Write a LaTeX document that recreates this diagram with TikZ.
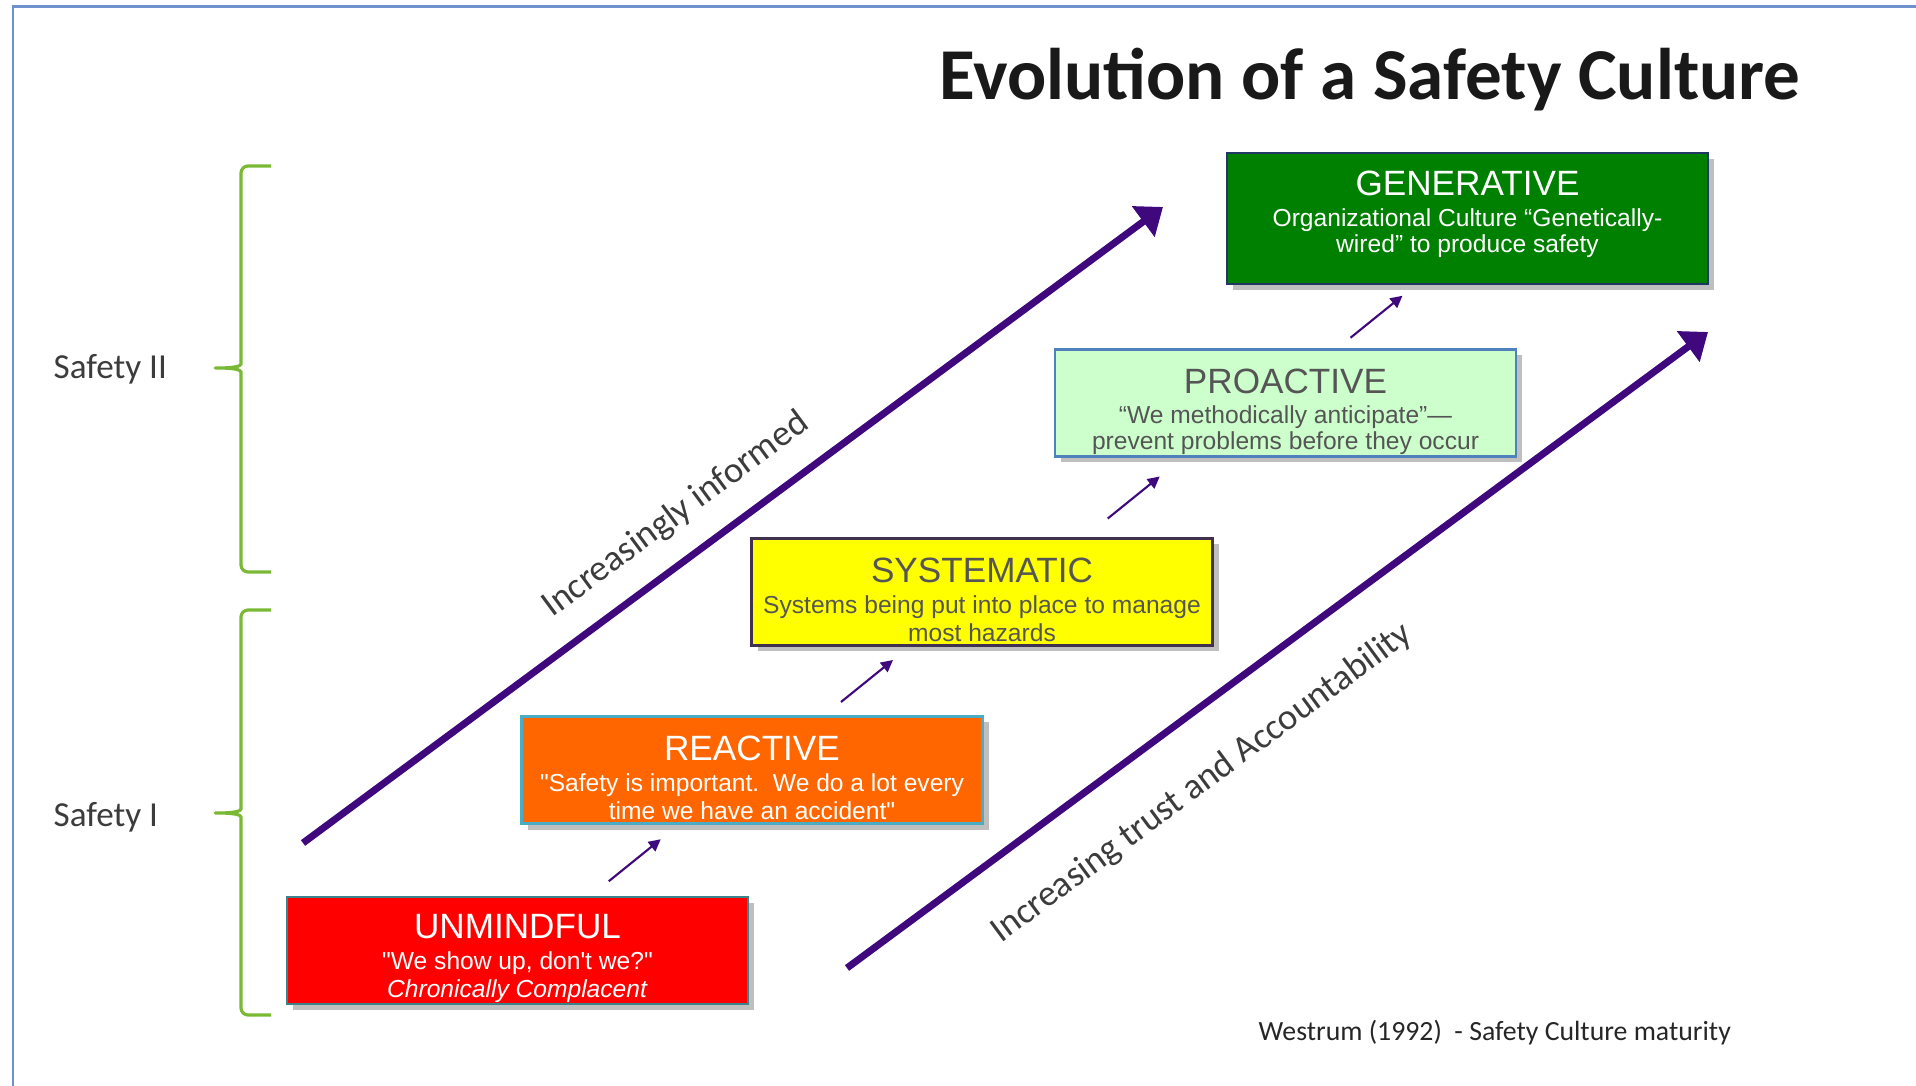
\documentclass[tikz,border=0pt]{standalone}
\usepackage{fontspec}
\setmainfont{Carlito}
\newfontfamily\stagefont{Liberation Sans}
\usepackage{tikz}
\usetikzlibrary{arrows.meta,shadows,calc}

\definecolor{frameblue}{RGB}{110,145,205}
\definecolor{trend}{RGB}{63,8,125}
\definecolor{bracegreen}{RGB}{122,185,52}
\definecolor{labelgray}{RGB}{60,60,60}
\definecolor{stagegray}{RGB}{85,85,85}
\definecolor{unmred}{RGB}{255,0,0}
\definecolor{unmedge}{RGB}{60,130,140}
\definecolor{reaorange}{RGB}{255,102,0}
\definecolor{reaedge}{RGB}{75,172,198}
\definecolor{sysyellow}{RGB}{255,255,0}
\definecolor{sysedge}{RGB}{64,49,81}
\definecolor{prolight}{RGB}{204,255,204}
\definecolor{proedge}{RGB}{79,129,189}
\definecolor{gengreen}{RGB}{0,128,0}
\definecolor{genedge}{RGB}{31,56,100}

\begin{document}
\begin{tikzpicture}[
  stage/.style={draw, line width=0.6pt, minimum width=4.61cm, minimum height=1.07cm,
    inner sep=0pt, align=center, font=\stagefont\fontsize{7}{8.1}\selectfont,
    drop shadow={shadow xshift=0.6mm, shadow yshift=-0.6mm, fill=black!50, opacity=0.5}},
  bigarrow/.style={-{Triangle[length=7pt,width=10.5pt]}, line width=2pt, color=trend},
  steparrow/.style={-{Triangle[length=3.4pt,width=3.4pt]}, line width=0.6pt, color=trend},
  bracket/.style={line width=0.9pt, color=bracegreen, rounded corners=2pt, line join=round},
  side/.style={font=\fontsize{10}{12}\selectfont, text=labelgray, anchor=base west, inner sep=0pt},
  lean/.style={rotate=36.45, font=\fontsize{10.4}{12}\selectfont, text=labelgray, inner sep=0pt}
]
\useasboundingbox (0,0) rectangle (19.16,-10.86);
\draw[frameblue, line width=0.8pt] (19.16,-0.065) -- (0.13,-0.065) -- (0.13,-10.86);

\draw (13.70,-1.00) node[anchor=base, font=\bfseries\fontsize{20.8}{24}\selectfont, text=black!90] (title) {Evolution of a Safety Culture};

% the five stages
\draw (5.175,-9.505) node[stage, fill=unmred, draw=unmedge, text=white] (unmindful)
  {\rule{0pt}{11.5pt}{\fontsize{10}{12}\selectfont UNMINDFUL}\\[0.6pt] "We show up, don't we?"\\ \textit{Chronically Complacent}};
\draw (7.52,-7.70) node[stage, fill=reaorange, draw=reaedge, text=white] (reactive)
  {\rule{0pt}{11.5pt}{\fontsize{10}{12}\selectfont REACTIVE}\\[0.6pt] "Safety is important.\ \ We do a lot every\\ time we have an accident"};
\draw (9.82,-5.92) node[stage, fill=sysyellow, draw=sysedge, text=stagegray] (systematic)
  {\rule{0pt}{11.5pt}{\fontsize{10}{12}\selectfont SYSTEMATIC}\\[0.6pt] Systems being put into place to manage\\ most hazards};
\draw (12.855,-4.03) node[stage, fill=prolight, draw=proedge, text=stagegray] (proactive)
  {\rule{0pt}{12pt}{\fontsize{10}{12}\selectfont PROACTIVE}\\[0.3pt] “We methodically anticipate”—\\[-0.6pt] prevent problems before they occur};
\draw (14.675,-2.185) node[stage, fill=gengreen, draw=genedge, text=white, minimum width=4.81cm, minimum height=1.31cm] (generative)
  {{\fontsize{10}{12}\selectfont GENERATIVE}\\[0.8pt] Organizational Culture “Genetically-\\[-0.9pt] wired” to produce safety\rule[-4pt]{0pt}{4pt}};

\draw[steparrow] ($(unmindful.north)!0.5!(reactive.south)$) +(-0.26,-0.21) -- +(0.26,0.21);
\draw[steparrow] ($(reactive.north)!0.5!(systematic.south)$) +(-0.26,-0.21) -- +(0.26,0.21);
\draw[steparrow] ($(systematic.north)!0.5!(proactive.south)$) +(-0.26,-0.21) -- +(0.26,0.21);
\draw[steparrow] ($(proactive.north)!0.5!(generative.south)$) +(-0.26,-0.21) -- +(0.26,0.21);

% the two long trends
\coordinate (inf0) at (3.03,-8.43);
\coordinate (inf1) at (11.63,-2.07);
\coordinate (acc0) at (8.47,-9.68);
\coordinate (acc1) at (17.08,-3.32);
\draw[bigarrow] (inf0) -- (inf1);
\draw[bigarrow] (acc0) -- (acc1);
\draw (6.76,-5.15) node[lean] (informed) {Increasingly informed};
\draw (12.02,-7.83) node[lean] (trust) {Increasing trust and Accountability};

% Safety I / Safety II brackets
\draw[bracket] (2.71,-1.66) -- (2.41,-1.66) -- (2.41,-3.57) .. controls (2.41,-3.66) and (2.35,-3.68) .. (2.11,-3.68)
  .. controls (2.35,-3.68) and (2.41,-3.70) .. (2.41,-3.79) -- (2.41,-5.72) -- (2.71,-5.72);
\draw[bracket] (2.71,-6.10) -- (2.41,-6.10) -- (2.41,-8.02) .. controls (2.41,-8.11) and (2.35,-8.13) .. (2.11,-8.13)
  .. controls (2.35,-8.13) and (2.41,-8.15) .. (2.41,-8.24) -- (2.41,-10.15) -- (2.71,-10.15);
\draw (0.53,-3.79) node[side] (safetytwo) {Safety II};
\draw (0.53,-8.27) node[side] (safetyone) {Safety I};

\draw (12.58,-10.40) node[side, font=\fontsize{7.9}{10}\selectfont, text=black!85] (source) {Westrum (1992)\ \ - Safety Culture maturity};
\end{tikzpicture}
\end{document}
